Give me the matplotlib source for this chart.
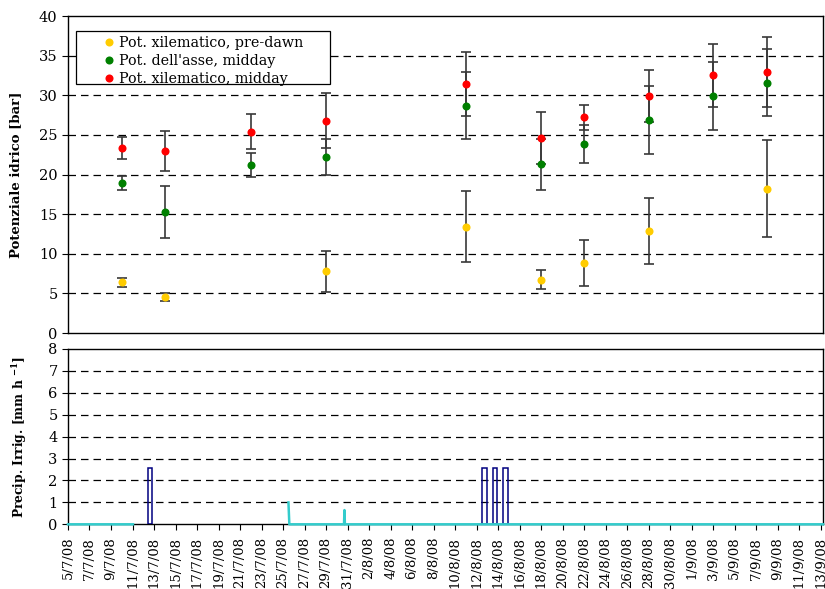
import numpy as np
import pandas as pd
import matplotlib
matplotlib.use("Agg")
import matplotlib.pyplot as plt
from matplotlib.patches import Rectangle

plt.rcParams['font.family'] = ['DejaVu Serif']

# Water potential measurements (bar)
meas_dates = ['2008-07-10', '2008-07-14', '2008-07-22', '2008-07-29', '2008-08-11',
              '2008-08-18', '2008-08-22', '2008-08-28', '2008-09-03', '2008-09-08']
predawn = [6.4, 4.6, np.nan, 7.8, 13.4, 6.7, 8.8, 12.9, np.nan, 18.2]
predawn_err = [0.6, 0.5, np.nan, 2.6, 4.5, 1.2, 2.9, 4.2, np.nan, 6.1]
stem_midday = [18.9, 15.3, 21.2, 22.2, 28.7, 21.3, 23.9, 26.9, 29.9, 31.6]
stem_midday_err = [0.9, 3.3, 1.5, 2.3, 4.2, 3.2, 2.4, 4.3, 4.3, 4.2]
xylem_midday = [23.3, 23.0, 25.4, 26.8, 31.4, 24.6, 27.2, 29.9, 32.5, 32.9]
xylem_midday_err = [1.4, 2.5, 2.2, 3.5, 4.0, 3.3, 1.6, 3.3, 4.0, 4.4]

series_labels = ['Pot. xilematico, pre-dawn', "Pot. dell'asse, midday", 'Pot. xilematico, midday']
series_colors = ['#FFCC00', '#008000', '#FF0000']

# Precipitation (mm/h); NaN marks the missing record
precip_time = ['2008-07-05 00:00', '2008-07-11 01:00', '2008-07-11 02:00',
               '2008-07-25 12:00', '2008-07-25 14:00', '2008-07-30 16:00',
               '2008-07-30 17:00', '2008-07-30 18:00', '2008-09-13 05:00']
precip_vals = [0.0, 0.0, np.nan, 1.0, 0.0, 0.0, 0.65, 0.0, 0.0]

# Irrigation events (mm/h)
irrig_time = ['2008-07-12 15:00', '2008-08-12 17:00', '2008-08-13 17:00', '2008-08-14 17:00']
irrig_vals = [2.55, 2.55, 2.55, 2.55]

x_start = pd.Timestamp('2008-07-05')
x_end = pd.Timestamp('2008-09-13 05:00')
tick_dates = pd.date_range('2008-07-05', '2008-09-13', freq='2D')

fig = plt.figure(figsize=(8.25, 5.89), dpi=100)
ax1 = fig.add_axes([0.0824, 0.4346, 0.9152, 0.5382])
ax2 = fig.add_axes([0.0824, 0.1098, 0.9152, 0.2977])

grid_kw = dict(color='black', linestyle=(0, (6, 4)), linewidth=0.9)

# --- Upper panel: water potential ---
xd = pd.to_datetime(meas_dates)
for vals, errs, lab, col in zip([predawn, stem_midday, xylem_midday],
                                [predawn_err, stem_midday_err, xylem_midday_err],
                                series_labels, series_colors):
    ax1.errorbar(xd, vals, yerr=errs, fmt='none', ecolor='#383838', elinewidth=1.2,
                 capsize=3.3, capthick=1.2, zorder=3)
    ax1.plot(xd, vals, 'o', color=col, markersize=5.8, label=lab, zorder=4,
             markeredgewidth=0)

ax1.set_ylim(0, 40)
ax1.set_yticks(np.arange(0, 41, 5))
for y in range(5, 40, 5):
    ax1.axhline(y, zorder=1, **grid_kw)
ax1.set_xlim(x_start, x_end)
ax1.set_xticks([])
ax1.set_ylabel('Potenziale idrico [bar]', fontweight='bold', fontsize=9.5, labelpad=12)
ax1.tick_params(axis='y', direction='out', length=4, labelsize=10.5)

# legend box and entries
ax1.add_patch(Rectangle((0.0106, 0.7855), 0.3364, 0.1681, transform=ax1.transAxes,
                        facecolor='white', edgecolor='black', linewidth=0.9, zorder=5))
leg = ax1.legend(loc='upper left', bbox_to_anchor=(0.045, 0.937), frameon=False,
                 fontsize=10.3, handlelength=1.0, handletextpad=0.2, borderpad=0.0,
                 labelspacing=0.28, borderaxespad=0.0)
leg.set_zorder(6)

# --- Lower panel: precipitation and irrigation ---
ax2.plot(pd.to_datetime(precip_time), precip_vals, color='#33CCCC', linewidth=1.8,
         zorder=4, clip_on=False)
ax2.bar(pd.to_datetime(irrig_time), irrig_vals, width=0.45, facecolor='none',
        edgecolor='#000080', linewidth=1.1, zorder=3)
ax2.set_ylim(0, 8)
ax2.set_yticks(np.arange(0, 9, 1))
for y in range(1, 8):
    ax2.axhline(y, zorder=1, **grid_kw)
ax2.set_xlim(x_start, x_end)
ax2.set_xticks(tick_dates)
ax2.set_xticklabels([f'{d.day}/{d.month}/{d:%y}' for d in tick_dates], rotation=90,
                    fontsize=9.5)
ax2.set_ylabel('Precip. Irrig. [mm h $^{\\mathregular{-1}}$]', fontweight='bold',
               fontsize=8.8, labelpad=14)
ax2.tick_params(axis='y', direction='out', length=4, labelsize=10.5)
ax2.tick_params(axis='x', direction='out', length=4, pad=5)

for ax in (ax1, ax2):
    for s in ax.spines.values():
        s.set_linewidth(1.0)

fig.savefig('out.png', dpi=100)
